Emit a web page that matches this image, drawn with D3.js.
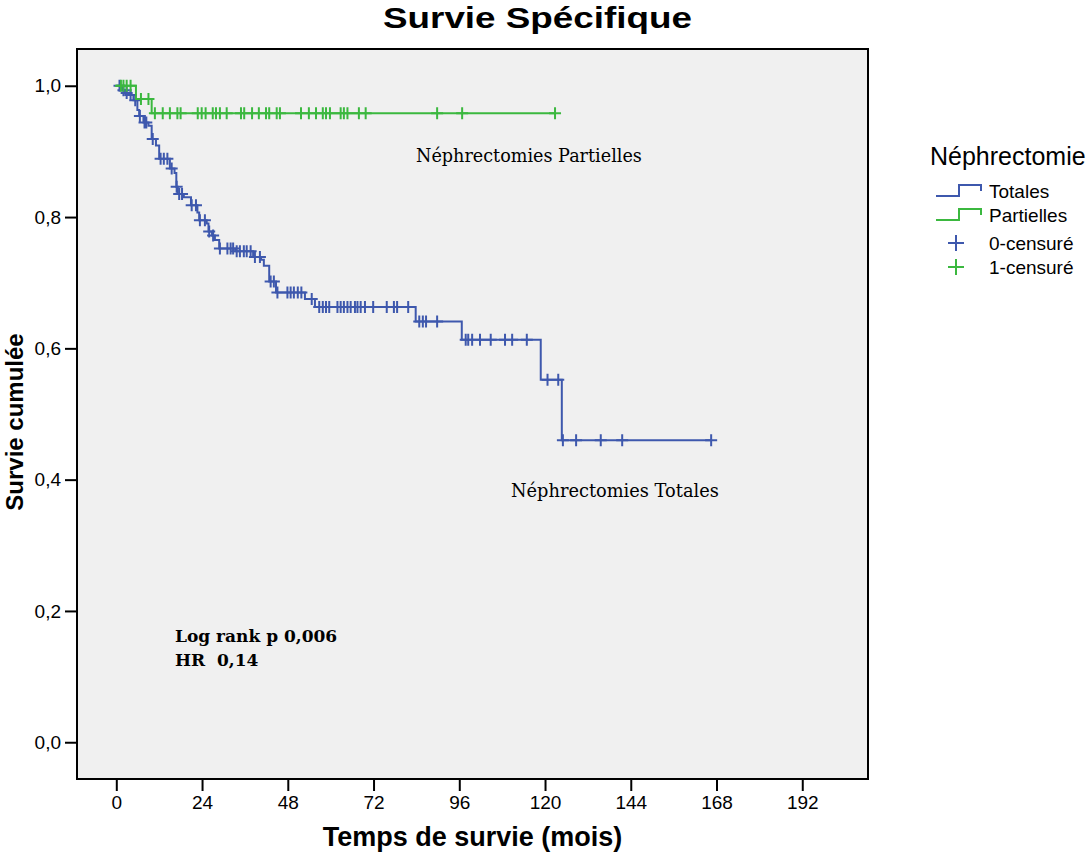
<!DOCTYPE html>
<html>
<head>
<meta charset="utf-8">
<script src="https://cdn.jsdelivr.net/npm/d3@7"></script>
<style>
  body { margin: 0; background: #ffffff; }
  text { font-family: "Liberation Sans", Arial, sans-serif; }
</style>
</head>
<body>
<svg id="chart" width="1089" height="855"></svg>
<script>
// Axis ticks
const xTicks = [0, 24, 48, 72, 96, 120, 144, 168, 192];
const yTicks = [0, 0.2, 0.4, 0.6, 0.8, 1.0];

// Kaplan-Meier steps: [time (months), cumulative survival after the event]
const totalesEvents = [
  [1.2, 0.9965], [1.8, 0.993], [2.4, 0.989], [3.1, 0.986], [4.8, 0.978],
  [5.9, 0.963], [6.4, 0.954], [7.6, 0.944], [9.0, 0.939], [9.9, 0.919],
  [11.1, 0.909], [12.0, 0.889], [15.0, 0.874], [16.3, 0.867], [16.8, 0.846],
  [17.2, 0.835], [18.9, 0.830], [20.9, 0.818], [22.7, 0.807], [23.2, 0.795],
  [25.3, 0.790], [25.8, 0.778], [26.8, 0.772], [27.6, 0.765], [28.8, 0.752],
  [33.3, 0.748], [38.3, 0.739], [40.5, 0.735], [41.3, 0.726], [42.8, 0.702],
  [44.7, 0.685], [52.8, 0.675], [55.6, 0.663], [83.8, 0.641], [96.7, 0.613],
  [118.8, 0.552], [124.7, 0.460]
];
// Censored observation times (months)
const totalesCensored = [
  0.9, 2.0, 2.9, 4.0, 5.3, 6.6, 7.9, 8.4, 10.2, 12.4, 13.3, 14.3, 15.5,
  16.9, 17.6, 18.4, 21.1, 22.3, 23.4, 24.8, 26.0, 27.1, 29.0, 31.1, 32.0,
  32.7, 33.7, 34.6, 35.7, 36.5, 37.6, 38.8, 40.2, 43.2, 44.1, 45.1, 47.9,
  48.8, 49.7, 50.8, 51.8, 54.7, 56.8, 57.8, 58.7, 59.6, 61.9, 62.8, 63.7,
  64.7, 65.6, 66.8, 67.5, 68.4, 69.6, 71.9, 75.7, 77.7, 78.6, 81.7, 84.8,
  85.8, 86.7, 89.8, 97.8, 98.5, 99.6, 101.8, 104.8, 108.8, 110.8, 114.9,
  120.7, 123.7, 125.0, 128.7, 135.6, 141.6, 166.5
];

const partiellesEvents = [[5.5, 0.980], [9.9, 0.958]];
const partiellesCensored = [
  1.3, 2.0, 2.9, 4.0, 6.9, 9.0, 10.8, 13.0, 15.0, 17.1, 18.0, 22.8, 23.9,
  25.0, 27.0, 27.9, 29.0, 30.9, 34.9, 35.8, 38.0, 39.9, 41.9, 42.8, 44.9,
  45.8, 51.7, 53.9, 55.9, 57.8, 58.7, 59.8, 62.8, 63.7, 64.7, 67.9, 69.8,
  89.8, 96.8, 122.8
];

const groupNames = ["Totales", "Partielles"];
const censorNames = ["0-censuré", "1-censuré"];
const colors = { Totales: "#3e58ad", Partielles: "#3bb83f" };

const svg = d3.select("#chart");
const plot = { left: 77, right: 868, top: 49, bottom: 779 };

const x = d3.scaleLinear().domain([-11, 210.4]).range([plot.left, plot.right]);
const y = d3.scaleLinear().domain([-0.056, 1.056]).range([plot.bottom, plot.top]);

// Plot background
svg.append("rect")
  .attr("x", plot.left).attr("y", plot.top)
  .attr("width", plot.right - plot.left).attr("height", plot.bottom - plot.top)
  .attr("fill", "#f0f0f0").attr("stroke", "none");

// Axes
const fmt = d => d3.format(".1f")(d).replace(".", ",");
const yAxis = svg.append("g").attr("transform", `translate(${plot.left},0)`)
  .call(d3.axisLeft(y).tickValues(yTicks).tickFormat(fmt).tickSize(12).tickPadding(4));
const xAxis = svg.append("g").attr("transform", `translate(0,${plot.bottom})`)
  .call(d3.axisBottom(x).tickValues(xTicks).tickSize(12).tickPadding(5));
[yAxis, xAxis].forEach(g => {
  g.select(".domain").remove();
  g.selectAll(".tick line").attr("stroke", "#000").attr("stroke-width", 2);
  g.selectAll(".tick text").attr("fill", "#000")
    .style("font-family", "'Liberation Sans', Arial, sans-serif")
    .style("font-size", "19px");
});

// Step curves
function survivalAt(events, t) {
  let s = 1;
  for (const [et, es] of events) { if (et <= t) s = es; }
  return s;
}
function curvePoints(events, censored) {
  const end = d3.max(censored.concat(events.map(e => e[0])));
  return [[0, 1], ...events, [end, survivalAt(events, end)]];
}
const line = d3.line().x(d => x(d[0])).y(d => y(d[1])).curve(d3.curveStepAfter);

const series = [
  { name: "Totales", events: totalesEvents, censored: totalesCensored },
  { name: "Partielles", events: partiellesEvents, censored: partiellesCensored }
];

const cross = (cx, cy, hw, hh) => `M${cx - hw},${cy}H${cx + hw}M${cx},${cy - hh}V${cy + hh}`;

series.forEach(sr => {
  const g = svg.append("g");
  g.append("path")
    .attr("d", line(curvePoints(sr.events, sr.censored)))
    .attr("fill", "none").attr("stroke", colors[sr.name]).attr("stroke-width", 2);
  g.append("path")
    .attr("d", sr.censored.map(t => cross(x(t), y(survivalAt(sr.events, t)), 6, 6)).join(""))
    .attr("fill", "none").attr("stroke", colors[sr.name]).attr("stroke-width", 2);
});

// Frame
svg.append("rect")
  .attr("x", plot.left).attr("y", plot.top)
  .attr("width", plot.right - plot.left).attr("height", plot.bottom - plot.top)
  .attr("fill", "none").attr("stroke", "#000").attr("stroke-width", 2);

// Titles
svg.append("text").attr("x", 537.5).attr("y", 28).attr("text-anchor", "middle")
  .attr("textLength", 309).attr("lengthAdjust", "spacingAndGlyphs")
  .style("font-size", "29px").style("font-weight", "bold").text("Survie Spécifique");
svg.append("text").attr("x", (plot.left + plot.right) / 2).attr("y", 846)
  .attr("text-anchor", "middle").style("font-size", "27px").style("font-weight", "bold")
  .text("Temps de survie (mois)");
svg.append("text").attr("transform", `translate(23,${(plot.top + plot.bottom) / 2 + 8}) rotate(-90)`)
  .attr("text-anchor", "middle").style("font-size", "24px").style("font-weight", "bold")
  .text("Survie cumulée");

// In-plot annotations
const serif = "'DejaVu Serif', 'Liberation Serif', serif";
svg.append("text").attr("x", 416).attr("y", 162).style("font-family", serif)
  .style("font-size", "17.6px").text("Néphrectomies Partielles");
svg.append("text").attr("x", 511).attr("y", 497).style("font-family", serif)
  .style("font-size", "17.8px").text("Néphrectomies Totales");
svg.append("text").attr("x", 175).attr("y", 642).style("font-family", serif)
  .style("font-size", "17px").style("font-weight", "bold").text("Log rank p 0,006");
svg.append("text").attr("x", 175).attr("y", 666).style("font-family", serif)
  .style("font-size", "17px").style("font-weight", "bold").style("white-space", "pre")
  .text("HR  0,14");

// Legend
const lg = svg.append("g");
lg.append("text").attr("x", 930).attr("y", 165).style("font-size", "25px").text("Néphrectomie");
const legendRows = [198, 222, 250, 274];
groupNames.forEach((name, i) => {
  const by = legendRows[i] - 2;
  lg.append("path")
    .attr("d", `M936,${by}H959V${by - 11}H981V${by - 5}`)
    .attr("fill", "none").attr("stroke", colors[name]).attr("stroke-width", 2);
  lg.append("text").attr("x", 989).attr("y", legendRows[i]).style("font-size", "19px").text(name);
});
censorNames.forEach((name, i) => {
  const cy = legendRows[i + 2] - 7;
  lg.append("path").attr("d", cross(956, cy, 8, 8))
    .attr("fill", "none").attr("stroke", colors[groupNames[i]]).attr("stroke-width", 2);
  lg.append("text").attr("x", 989).attr("y", legendRows[i + 2]).style("font-size", "19px").text(name);
});
</script>
</body>
</html>
